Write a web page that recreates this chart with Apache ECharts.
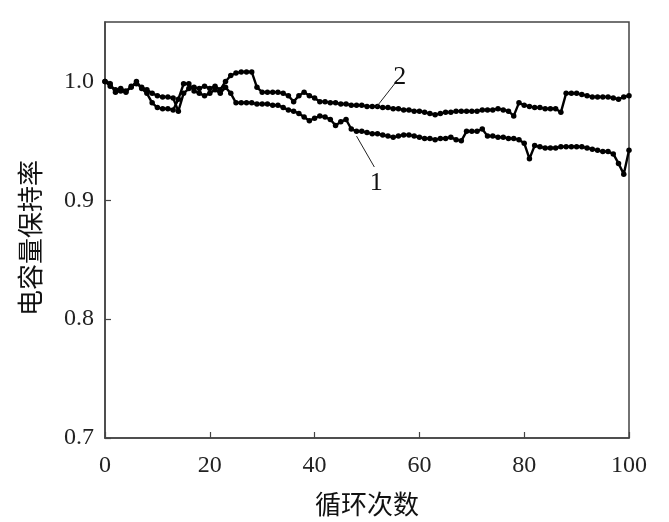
<!DOCTYPE html>
<html>
<head>
<meta charset="utf-8">
<script src="https://cdn.jsdelivr.net/npm/echarts@6/dist/echarts.min.js"></script>
<style>
  html, body { margin: 0; padding: 0; background: #fff; }
  #main { width: 669px; height: 522px; }
</style>
</head>
<body>
<div id="main"></div>
<script>
// 循环次数
var cycles = [0, 1, 2, 3, 4, 5, 6, 7, 8, 9, 10, 11, 12, 13, 14, 15, 16, 17, 18, 19,
  20, 21, 22, 23, 24, 25, 26, 27, 28, 29, 30, 31, 32, 33, 34, 35, 36, 37, 38, 39,
  40, 41, 42, 43, 44, 45, 46, 47, 48, 49, 50, 51, 52, 53, 54, 55, 56, 57, 58, 59,
  60, 61, 62, 63, 64, 65, 66, 67, 68, 69, 70, 71, 72, 73, 74, 75, 76, 77, 78, 79,
  80, 81, 82, 83, 84, 85, 86, 87, 88, 89, 90, 91, 92, 93, 94, 95, 96, 97, 98, 99, 100];

// 曲线1 电容量保持率
var curve1 = [1.000, 0.996, 0.993, 0.994, 0.992, 0.995, 1.000, 0.994, 0.990, 0.982,
  0.978, 0.977, 0.977, 0.976, 0.985, 0.998, 0.998, 0.992, 0.990, 0.988,
  0.990, 0.993, 0.990, 0.995, 0.990, 0.982, 0.982, 0.982, 0.982, 0.981,
  0.981, 0.981, 0.980, 0.980, 0.978, 0.976, 0.975, 0.973, 0.970, 0.967,
  0.969, 0.971, 0.970, 0.968, 0.963, 0.966, 0.968, 0.960, 0.958, 0.958,
  0.957, 0.956, 0.956, 0.955, 0.954, 0.953, 0.954, 0.955, 0.955, 0.954,
  0.953, 0.952, 0.952, 0.951, 0.952, 0.952, 0.953, 0.951, 0.950, 0.958,
  0.958, 0.958, 0.960, 0.954, 0.954, 0.953, 0.953, 0.952, 0.952, 0.951,
  0.948, 0.935, 0.946, 0.945, 0.944, 0.944, 0.944, 0.945, 0.945, 0.945,
  0.945, 0.945, 0.944, 0.943, 0.942, 0.941, 0.941, 0.939, 0.931, 0.922, 0.942];

// 曲线2 电容量保持率
var curve2 = [1.000, 0.998, 0.991, 0.992, 0.991, 0.996, 0.998, 0.995, 0.993, 0.990,
  0.988, 0.987, 0.987, 0.986, 0.975, 0.990, 0.994, 0.995, 0.994, 0.996,
  0.994, 0.996, 0.993, 1.000, 1.005, 1.007, 1.008, 1.008, 1.008, 0.995,
  0.991, 0.991, 0.991, 0.991, 0.990, 0.988, 0.983, 0.988, 0.991, 0.988,
  0.986, 0.983, 0.983, 0.982, 0.982, 0.981, 0.981, 0.980, 0.980, 0.980,
  0.979, 0.979, 0.979, 0.978, 0.978, 0.977, 0.977, 0.976, 0.976, 0.975,
  0.975, 0.974, 0.973, 0.972, 0.973, 0.974, 0.974, 0.975, 0.975, 0.975,
  0.975, 0.975, 0.976, 0.976, 0.976, 0.977, 0.976, 0.975, 0.971, 0.982,
  0.980, 0.979, 0.978, 0.978, 0.977, 0.977, 0.977, 0.974, 0.990, 0.990,
  0.990, 0.989, 0.988, 0.987, 0.987, 0.987, 0.987, 0.986, 0.985, 0.987, 0.988];

var xTicks = [0, 20, 40, 60, 80, 100];
var yTicks = [0.7, 0.8, 0.9, 1.0];

// 标注引线（数据坐标）
var leader1 = [[48, 0.954], [51.4, 0.928]];
var leader2 = [[51.8, 0.9785], [55.8, 1.001]];

function pairs (xs, ys) {
  var out = [];
  for (var i = 0; i < xs.length; i++) {
    out.push([xs[i], ys[i]]);
  }
  return out;
}

function leader (pts, text) {
  return {
    silent: true,
    symbol: ['none', 'none'],
    animation: false,
    lineStyle: { color: '#222', width: 1, type: 'solid' },
    label: {
      show: true,
      position: 'end',
      distance: 4,
      formatter: text,
      color: '#111',
      fontFamily: 'Liberation Serif',
      fontSize: 26
    },
    data: [[{ coord: pts[0] }, { coord: pts[1] }]]
  };
}

var myChart = echarts.init(document.getElementById('main'));
var tickFont = { fontFamily: 'Liberation Serif', fontSize: 24, color: '#222' };

var option = {
  animation: false,
  backgroundColor: '#fff',
  grid: {
    left: 105, right: 40, top: 22, bottom: 80,
    show: true, borderColor: '#444', borderWidth: 1.5
  },
  xAxis: {
    type: 'value',
    min: 0, max: 100, interval: 20,
    name: '循环次数',
    nameLocation: 'middle',
    nameGap: 53,
    nameTextStyle: { fontFamily: 'Noto Sans CJK SC', fontSize: 26, color: '#111' },
    axisLine: { lineStyle: { color: '#444', width: 1.5 } },
    axisTick: { inside: true, length: 6, lineStyle: { color: '#444', width: 1.2 } },
    axisLabel: Object.assign({ margin: 16, formatter: function (v) {
      return xTicks.indexOf(v) >= 0 ? String(v) : '';
    } }, tickFont),
    splitLine: { show: false }
  },
  yAxis: {
    type: 'value',
    min: 0.7, max: 1.05, interval: 0.1,
    axisLine: { show: true, lineStyle: { color: '#444', width: 1.5 } },
    axisTick: { show: true, inside: true, length: 6, lineStyle: { color: '#444', width: 1.2 } },
    axisLabel: Object.assign({ margin: 11, showMaxLabel: false, formatter: function (v) {
      for (var i = 0; i < yTicks.length; i++) {
        if (Math.abs(yTicks[i] - v) < 1e-6) return yTicks[i].toFixed(1);
      }
      return '';
    } }, tickFont),
    splitLine: { show: false }
  },
  graphic: [{
    type: 'text',
    x: 30, y: 238,
    rotation: Math.PI / 2,
    style: {
      text: '电容量保持率',
      fontFamily: 'Noto Sans CJK SC',
      fontSize: 26,
      fill: '#111',
      align: 'center',
      verticalAlign: 'middle'
    }
  }],
  series: [
    {
      name: '1',
      type: 'line',
      data: pairs(cycles, curve1),
      symbol: 'circle',
      symbolSize: 5.5,
      itemStyle: { color: '#000' },
      lineStyle: { color: '#000', width: 2.4 },
      markLine: leader(leader1, '1')
    },
    {
      name: '2',
      type: 'line',
      data: pairs(cycles, curve2),
      symbol: 'circle',
      symbolSize: 5.5,
      itemStyle: { color: '#000' },
      lineStyle: { color: '#000', width: 2.4 },
      markLine: leader(leader2, '2')
    }
  ]
};

myChart.setOption(option);
</script>
</body>
</html>
